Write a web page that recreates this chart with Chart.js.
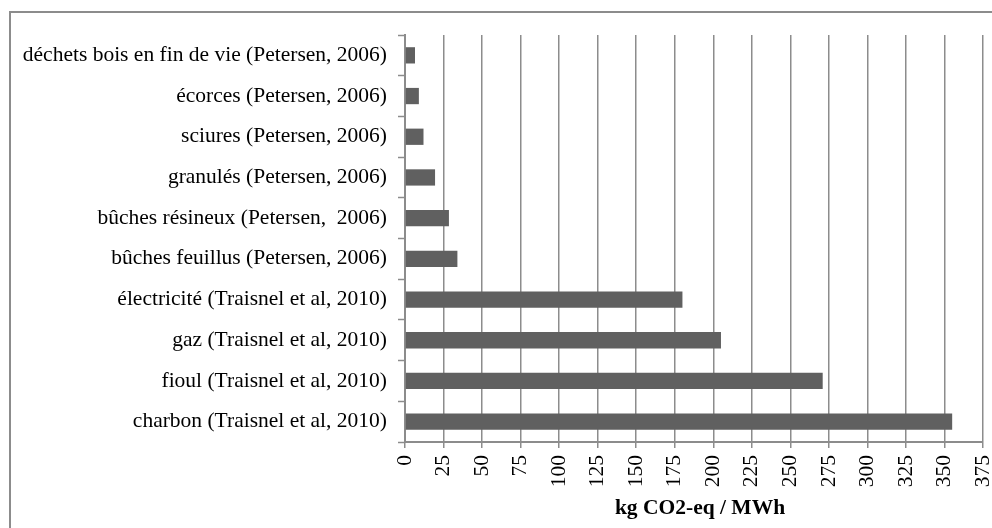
<!DOCTYPE html>
<html>
<head>
<meta charset="utf-8">
<script src="https://cdn.jsdelivr.net/npm/chart.js@4/dist/chart.umd.min.js"></script>
<style>
  html, body { margin: 0; padding: 0; background: #ffffff; }
  #wrap { position: relative; width: 992px; height: 528px; }
</style>
</head>
<body>
<div id="wrap"><canvas id="c" width="992" height="528"></canvas></div>
<script>
const categories = [
  "déchets bois en fin de vie (Petersen, 2006)",
  "écorces (Petersen, 2006)",
  "sciures (Petersen, 2006)",
  "granulés (Petersen, 2006)",
  "bûches résineux (Petersen,  2006)",
  "bûches feuillus (Petersen, 2006)",
  "électricité (Traisnel et al, 2010)",
  "gaz (Traisnel et al, 2010)",
  "fioul (Traisnel et al, 2010)",
  "charbon (Traisnel et al, 2010)"
];
const emissions = [6.5, 9, 12, 19.5, 28.5, 34, 180, 205, 271, 355];
const xTickValues = [0, 25, 50, 75, 100, 125, 150, 175, 200, 225, 250, 275, 300, 325, 350, 375];
const xAxisTitle = "kg CO2-eq / MWh";

const FONT = "'Liberation Serif', 'Times New Roman', serif";
const FSIZE = 21.5;
const GRAY = "#8c8c8c";

const framePlugin = {
  id: 'frame',
  beforeDraw(chart) {
    const ctx = chart.ctx;
    ctx.save();
    ctx.fillStyle = '#ffffff';
    ctx.fillRect(0, 0, chart.width, chart.height);
    ctx.strokeStyle = GRAY;
    ctx.lineWidth = 2;
    ctx.beginPath();
    ctx.moveTo(10, chart.height + 5);
    ctx.lineTo(10, 12);
    ctx.lineTo(chart.width + 5, 12);
    ctx.stroke();
    ctx.restore();
  },
  afterDraw(chart) {
    const xs = chart.scales.x;
    const ctx = chart.ctx;
    ctx.save();
    ctx.fillStyle = '#000000';
    ctx.font = 'bold ' + FSIZE + 'px ' + FONT;
    ctx.textAlign = 'center';
    ctx.textBaseline = 'middle';
    ctx.fillText(xAxisTitle, (xs.left + xs.right) / 2 + 6, xs.bottom - 20);
    ctx.restore();
  }
};

new Chart(document.getElementById('c'), {
  type: 'bar',
  data: {
    labels: categories,
    datasets: [{
      data: emissions,
      backgroundColor: '#606060',
      borderWidth: 0,
      barPercentage: 0.4,
      categoryPercentage: 1.0
    }]
  },
  options: {
    indexAxis: 'y',
    responsive: false,
    animation: false,
    devicePixelRatio: 1,
    layout: { padding: { top: 35, right: 9, bottom: 0, left: 0 } },
    plugins: {
      legend: { display: false },
      tooltip: { enabled: false },
      title: { display: false }
    },
    scales: {
      x: {
        type: 'linear',
        position: 'bottom',
        min: 0,
        max: 375,
        afterBuildTicks(scale) {
          scale.ticks = xTickValues.map(v => ({ value: v }));
        },
        afterFit(scale) {
          scale.height = 86;
          scale.paddingLeft = 0;
          scale.paddingRight = 0;
        },
        grid: {
          display: true,
          drawOnChartArea: true,
          drawTicks: true,
          tickLength: 6,
          color: GRAY,
          lineWidth: 1.5,
          tickColor: GRAY,
          tickWidth: 1.5
        },
        border: { display: true, color: GRAY, width: 2 },
        ticks: {
          autoSkip: false,
          minRotation: 90,
          maxRotation: 90,
          padding: 7,
          color: '#000000',
          font: { family: FONT, size: FSIZE }
        },
        title: { display: false }
      },
      y: {
        type: 'category',
        position: 'left',
        afterFit(scale) {
          scale.width = 405;
          scale.paddingTop = 0;
          scale.paddingBottom = 0;
        },
        grid: {
          display: true,
          offset: true,
          drawOnChartArea: false,
          drawTicks: true,
          tickLength: 7,
          tickColor: GRAY,
          tickWidth: 1.5
        },
        border: { display: true, color: GRAY, width: 2 },
        ticks: {
          autoSkip: false,
          padding: 11,
          color: '#000000',
          font: { family: FONT, size: FSIZE }
        }
      }
    }
  },
  plugins: [framePlugin]
});
</script>
</body>
</html>
